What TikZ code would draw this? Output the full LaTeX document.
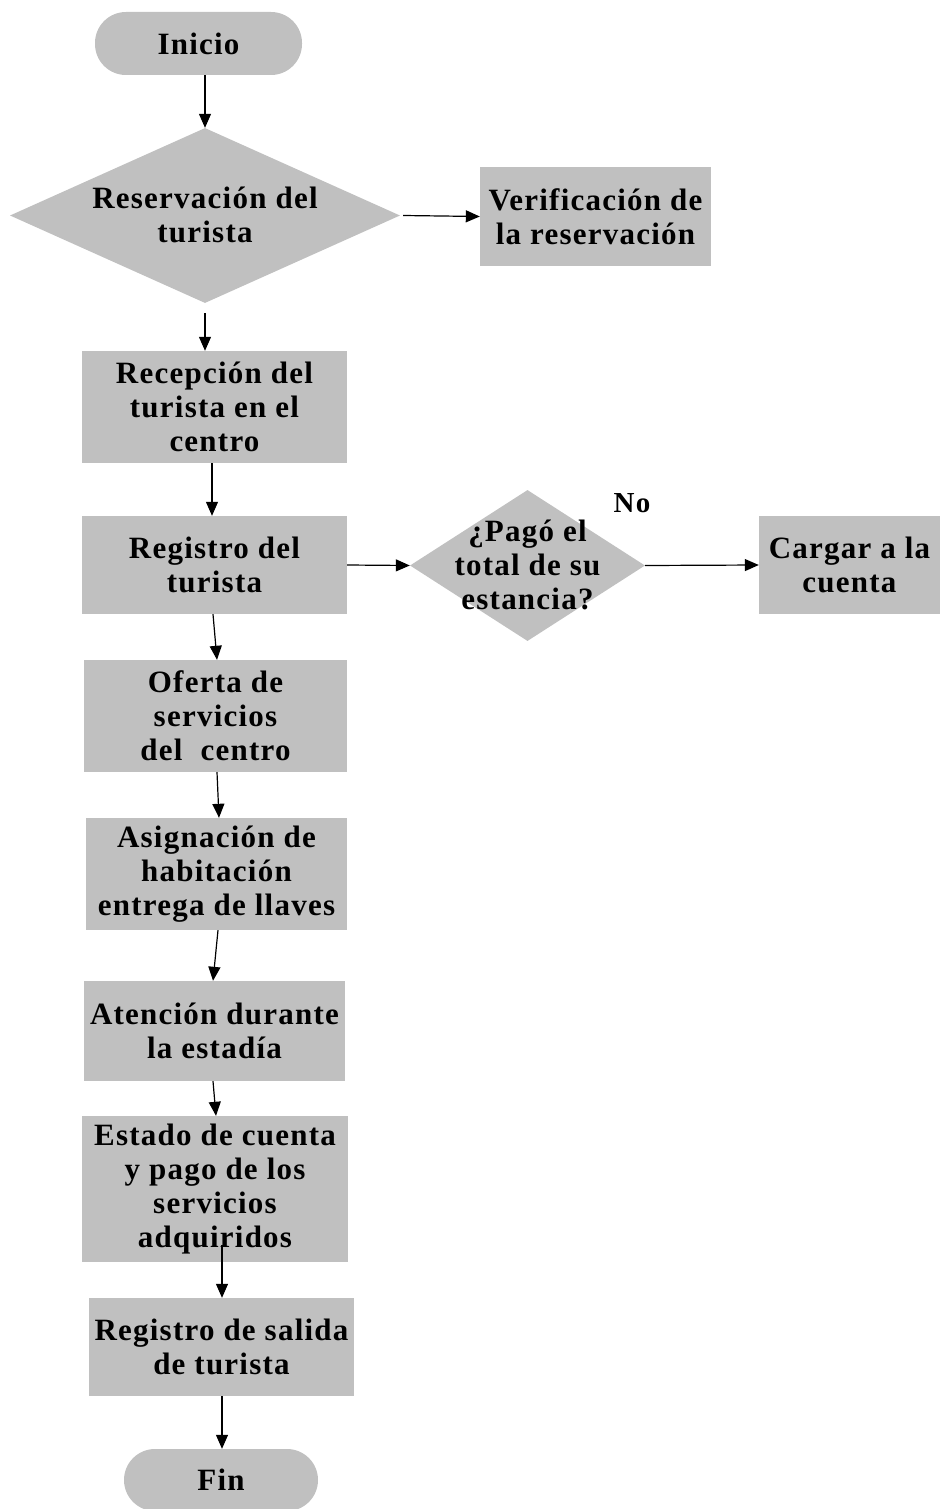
\documentclass[tikz,border=0pt]{standalone}
\usepackage{fontspec}
\setmainfont[LetterSpace=4]{Liberation Serif}
\usetikzlibrary{shapes.geometric,arrows.meta}
\definecolor{boxgray}{RGB}{192,192,192}
\tikzset{
  every node/.style={font=\fontsize{31}{34}\selectfont\bfseries},
  procbox/.style={rectangle, fill=boxgray, draw=none, inner sep=0pt, align=center},
  termbox/.style={rectangle, rounded corners=31pt, fill=boxgray, draw=none, inner sep=0pt, align=center},
  decbox/.style={diamond, fill=boxgray, draw=none, inner sep=0pt, aspect=2},
  decText/.style={align=center, inner sep=0pt},
  flow/.style={draw=black, line width=1.2pt, -{Triangle[length=14pt,width=12pt]}}
}
\begin{document}
\begin{tikzpicture}[x=1pt,y=-1pt]
\useasboundingbox (0,0) rectangle (940,1509);
\fill[white] (0,0) rectangle (940,1509);

\node[termbox, minimum width=207pt, minimum height=63pt] (ini) at (198.5,43.5) {Inicio};

\node[decbox, minimum width=390pt, minimum height=175pt] (d1) at (205,215.5) {};
\node[decText] (d1t) at (205,215) {Reservación del\\turista};

\node[procbox, minimum width=231pt, minimum height=99pt] (ver) at (595.5,216.5) {Verificación de\\la reservación};

\node[procbox, minimum width=265pt, minimum height=112pt] (rec) at (214.5,407) {Recepción del\\turista en el\\centro};

\node[procbox, minimum width=265pt, minimum height=98pt] (reg) at (214.5,565) {Registro del\\turista};

\node[decbox, minimum width=235pt, minimum height=151pt] (d2) at (527.5,565.5) {};
\node[decText] (d2t) at (527.5,565) {¿Pagó el\\total de su\\estancia?};

\node[procbox, minimum width=181pt, minimum height=98pt] (car) at (849.5,565) {Cargar a la\\cuenta};

\node[font=\fontsize{29}{32}\selectfont\bfseries] (no) at (632,503) {No};

\node[procbox, minimum width=263pt, minimum height=112pt] (ofe) at (215.5,716) {Oferta de\\servicios\\del\ \ centro};

\node[procbox, minimum width=261pt, minimum height=112pt] (asi) at (216.5,874) {Asignación de\\habitación\\entrega de llaves};

\node[procbox, minimum width=261pt, minimum height=100pt] (ate) at (214.5,1031) {Atención durante\\la estadía};

\node[procbox, minimum width=266pt, minimum height=146pt] (est) at (215,1189) {Estado de cuenta\\y pago de los\\servicios\\adquiridos};

\node[procbox, minimum width=265pt, minimum height=98pt] (sal) at (221.5,1347) {Registro de salida\\de turista};

\node[termbox, minimum width=194pt, minimum height=62pt] (fin) at (221,1480) {Fin};

\draw[flow] ([xshift=6.5pt]ini.south) -- (d1.north);
\draw[flow] ([xshift=3pt]d1.east) -- (ver.west);
\draw[flow] ([yshift=-10pt]d1.south) -- ([xshift=-9.5pt]rec.north);
\draw[flow] ([xshift=-2.5pt]rec.south) -- ([xshift=-2.5pt]reg.north);
\draw[flow] (reg.east) -- (d2.west);
\draw[flow] (d2.east) -- (car.west);
\draw[flow] ([xshift=-1.5pt]reg.south) -- ([xshift=1.5pt]ofe.north);
\draw[flow] ([xshift=1.5pt]ofe.south) -- ([xshift=2.5pt]asi.north);
\draw[flow] ([xshift=1.5pt]asi.south) -- ([xshift=-1.5pt]ate.north);
\draw[flow] ([xshift=-1.5pt]ate.south) -- ([xshift=1pt]est.north);
\draw[flow] ([xshift=7pt,yshift=17pt]est.south) -- ([xshift=0.5pt]sal.north);
\draw[flow] ([xshift=0.5pt]sal.south) -- ([xshift=1pt]fin.north);
\end{tikzpicture}
\end{document}
